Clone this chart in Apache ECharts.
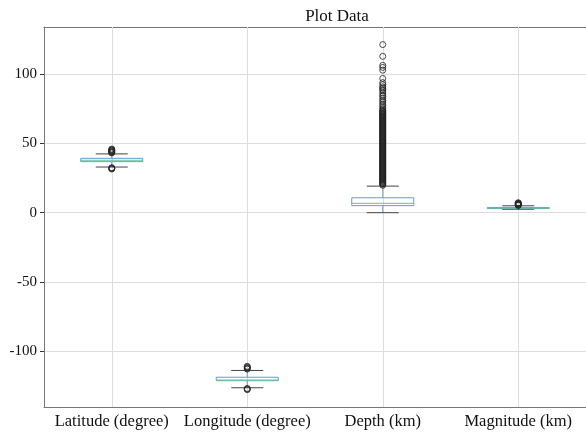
<!DOCTYPE html>
<html>
<head>
<meta charset="utf-8">
<script src="https://cdn.jsdelivr.net/npm/echarts@6/dist/echarts.min.js"></script>
<style>
  html, body { margin: 0; padding: 0; background: #fff; }
  #main { width: 586px; height: 435px; }
</style>
</head>
<body>
<div id="main"></div>
<script>
// 类别与箱线数据 [min, Q1, median, Q3, max]
var categories = ['Latitude (degree)', 'Longitude (degree)', 'Depth (km)', 'Magnitude (km)'];
var latBox = [33.0, 36.9, 37.9, 39.3, 42.5];
var lonBox = [-126.5, -121.4, -120.9, -118.9, -114.0];
var depthBox = [0.0, 5.1, 6.8, 10.8, 19.2];
var magBox = [2.5, 3.0, 3.3, 3.8, 5.0];

// 离群点
var latOut = [43.2, 43.6, 44.0, 44.4, 44.8, 45.2, 45.6, 46.0, 32.5, 32.2, 31.9, 31.6];
var lonOut = [-111.0, -111.5, -112.0, -112.5, -113.0, -127.0, -127.4, -127.9];
var depthOut = [19.8, 20.5, 21, 21.5, 22, 22.5, 23, 23.5, 24, 24.5, 25, 25.5, 26, 26.5, 27, 27.5,
  28, 28.5, 29, 29.5, 30, 30.5, 31, 31.5, 32, 32.5, 33, 33.5, 34, 34.5, 35, 35.5, 36, 36.5, 37,
  37.5, 38, 38.5, 39, 39.5, 40, 40.5, 41, 41.5, 42, 42.5, 43, 43.5, 44, 44.5, 45, 45.5, 46, 46.5,
  47, 47.5, 48, 48.5, 49, 49.5, 50, 50.5, 51, 51.5, 52, 52.5, 53, 53.5, 54, 54.5, 55, 55.5, 56,
  56.5, 57, 57.5, 58, 58.5, 59, 59.5, 60, 60.5, 61, 61.5, 62, 62.5, 63, 63.5, 64, 64.5, 65, 65.5,
  66, 66.5, 67, 67.5, 68, 68.5, 69, 69.5, 70, 70.5, 71, 71.5, 72, 72.5, 73, 73.5, 74, 75, 76,
  77.5, 78.5, 80, 81, 82.5, 84, 85, 86.5, 88, 89, 90, 91, 92.5, 94, 97, 103, 105, 106.5, 113, 121.5];
var magOut = [5.2, 5.5, 5.8, 6.1, 6.4, 6.7, 7.0, 7.2];
var yTicks = [-100, -50, 0, 50, 100];

var boxes = [latBox, lonBox, depthBox, magBox];
var outliers = [latOut, lonOut, depthOut, magOut];

var boxData = boxes.map(function (b, i) { return [i].concat(b); });
var outData = [];
outliers.forEach(function (arr, i) {
  arr.forEach(function (v) { outData.push([i, v]); });
});

var serif = 'Liberation Serif, Times New Roman, serif';

var myChart = echarts.init(document.getElementById('main'));

function renderBox(params, api) {
  var x = api.value(0);
  var pMin = api.coord([x, api.value(1)]);
  var pQ1 = api.coord([x, api.value(2)]);
  var pMed = api.coord([x, api.value(3)]);
  var pQ3 = api.coord([x, api.value(4)]);
  var pMax = api.coord([x, api.value(5)]);
  var cx = pMin[0];
  var half = 31, capHalf = 16;
  var blue = '#5aa0d8', green = '#6cc08a', cap = '#444';
  return {
    type: 'group',
    children: [
      { type: 'line', shape: { x1: cx, y1: pQ3[1], x2: cx, y2: pMax[1] }, style: { stroke: blue, lineWidth: 1 } },
      { type: 'line', shape: { x1: cx, y1: pQ1[1], x2: cx, y2: pMin[1] }, style: { stroke: blue, lineWidth: 1 } },
      { type: 'line', shape: { x1: cx - capHalf, y1: pMax[1], x2: cx + capHalf, y2: pMax[1] }, style: { stroke: cap, lineWidth: 1 } },
      { type: 'line', shape: { x1: cx - capHalf, y1: pMin[1], x2: cx + capHalf, y2: pMin[1] }, style: { stroke: cap, lineWidth: 1 } },
      { type: 'rect', shape: { x: cx - half, y: pQ3[1], width: half * 2, height: Math.max(pQ1[1] - pQ3[1], 1) }, style: { fill: 'none', stroke: blue, lineWidth: 1 } },
      { type: 'line', shape: { x1: cx - half, y1: pMed[1], x2: cx + half, y2: pMed[1] }, style: { stroke: green, lineWidth: 1 } }
    ]
  };
}

var option = {
  animation: false,
  title: {
    text: 'Plot Data',
    left: 332,
    top: 3,
    textAlign: 'center',
    textStyle: { fontFamily: serif, fontSize: 17, fontWeight: 'normal', color: '#111' }
  },
  grid: {
    left: 44, right: 0, top: 27, bottom: 28
  },
  xAxis: [
    {
      type: 'category',
      data: categories,
      axisLine: { onZero: false, lineStyle: { color: '#777' } },
      axisTick: { alignWithLabel: true, length: 4, lineStyle: { color: '#333' } },
      axisLabel: { fontFamily: serif, fontSize: 16.5, color: '#111', margin: 6, interval: 0 },
      splitLine: { show: false }
    },
    {
      // 顶部边框
      type: 'category',
      position: 'top',
      data: categories,
      axisLine: { onZero: false, lineStyle: { color: '#777' } },
      axisTick: { show: false },
      axisLabel: { show: false },
      splitLine: { show: false }
    }
  ],
  yAxis: {
    type: 'value',
    min: -140.4,
    max: 134.2,
    axisLine: { show: true, lineStyle: { color: '#777' } },
    axisTick: { show: true, length: 4, customValues: yTicks, lineStyle: { color: '#333' } },
    axisLabel: { fontFamily: serif, fontSize: 15, color: '#111', margin: 7, customValues: yTicks },
    splitLine: { show: true, lineStyle: { color: '#ddd' } }
  },
  series: [
    {
      type: 'custom',
      renderItem: renderBox,
      data: boxData,
      encode: { x: 0, y: [1, 2, 3, 4, 5] },
      z: 3,
      // 类别中心的竖向网格线
      markLine: {
        silent: true,
        symbol: 'none',
        label: { show: false },
        lineStyle: { color: '#ddd', type: 'solid', width: 1 },
        data: categories.map(function (c) { return { xAxis: c }; }),
        z: 1
      }
    },
    {
      type: 'scatter',
      data: outData,
      symbol: 'circle',
      symbolSize: 6,
      itemStyle: { color: 'rgba(255,255,255,0)', borderColor: '#222', borderWidth: 1 },
      z: 4
    }
  ]
};

myChart.setOption(option);
</script>
</body>
</html>
